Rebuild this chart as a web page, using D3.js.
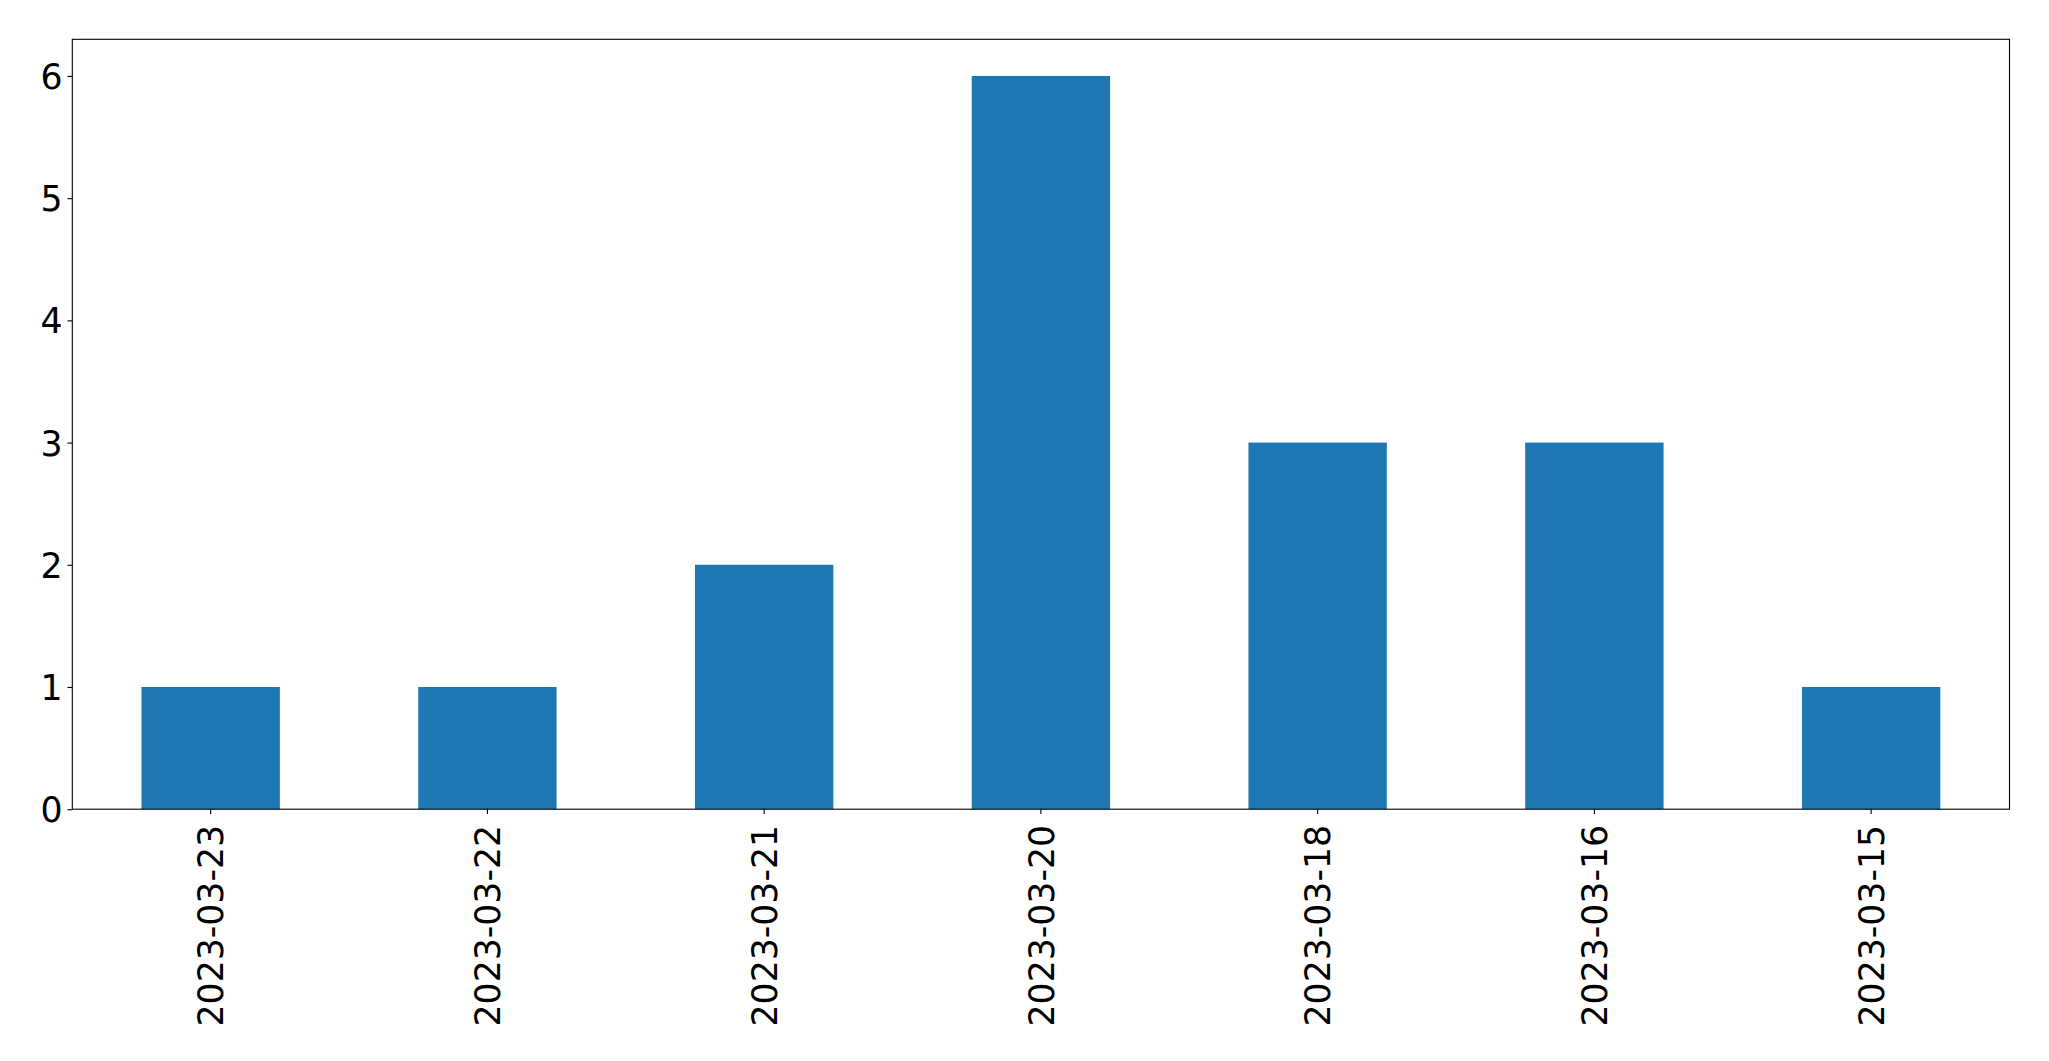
<!DOCTYPE html>
<html>
<head>
<meta charset="utf-8">
<script src="https://cdn.jsdelivr.net/npm/d3@7"></script>
<style>
  html, body { margin: 0; padding: 0; background: #fff; }
  svg { display: block; }
  text { font-family: "DejaVu Sans", sans-serif; fill: #000; }
</style>
</head>
<body>
<script>
const categories = ["2023-03-23", "2023-03-22", "2023-03-21", "2023-03-20", "2023-03-18", "2023-03-16", "2023-03-15"];
const counts = [1, 1, 2, 6, 3, 3, 1];
const yTicks = [0, 1, 2, 3, 4, 5, 6];

const W = 2049, H = 1061;
const mLeft = 72.3, mRight = 2009.5, mTop = 39.3, mBottom = 809.2;
const fontPx = 34.7;
const tickLen = 4.86, tickPad = 4.86;

const svg = d3.select("body").append("svg").attr("width", W).attr("height", H);

const x = d3.scaleBand().domain(categories).range([mLeft, mRight]).paddingInner(0.5).paddingOuter(0.25);
const y = d3.scaleLinear().domain([0, 6.3]).range([mBottom, mTop]);

// bars
svg.append("g").selectAll("rect").data(categories).join("rect")
  .attr("x", d => x(d))
  .attr("width", x.bandwidth())
  .attr("y", (d, i) => y(counts[i]))
  .attr("height", (d, i) => y(0) - y(counts[i]))
  .attr("fill", "#1f77b4");

// y axis
const yAxis = d3.axisLeft(y).tickValues(yTicks).tickFormat(d3.format("d")).tickSize(tickLen).tickPadding(tickPad);
const gy = svg.append("g").attr("transform", `translate(${mLeft},0)`).call(yAxis);
gy.select(".domain").remove();
gy.selectAll(".tick line").attr("stroke", "#000").attr("stroke-width", 1.1);
gy.selectAll(".tick text").attr("font-size", fontPx).attr("font-family", "DejaVu Sans").attr("dy", "0.36em");

// x axis
const xAxis = d3.axisBottom(x).tickSize(tickLen).tickPadding(tickPad);
const gx = svg.append("g").attr("transform", `translate(0,${mBottom})`).call(xAxis);
gx.select(".domain").remove();
gx.selectAll(".tick line").attr("stroke", "#000").attr("stroke-width", 1.1);
gx.selectAll(".tick text")
  .attr("font-size", fontPx)
  .attr("font-family", "DejaVu Sans")
  .attr("text-anchor", "end")
  .attr("transform", `rotate(-90)`)
  .attr("x", -(tickLen + tickPad + 6))
  .attr("y", 0)
  .attr("dy", "0.365em");

// frame
svg.append("rect")
  .attr("x", mLeft).attr("y", mTop)
  .attr("width", mRight - mLeft).attr("height", mBottom - mTop)
  .attr("fill", "none").attr("stroke", "#000").attr("stroke-width", 1.1);
</script>
</body>
</html>
